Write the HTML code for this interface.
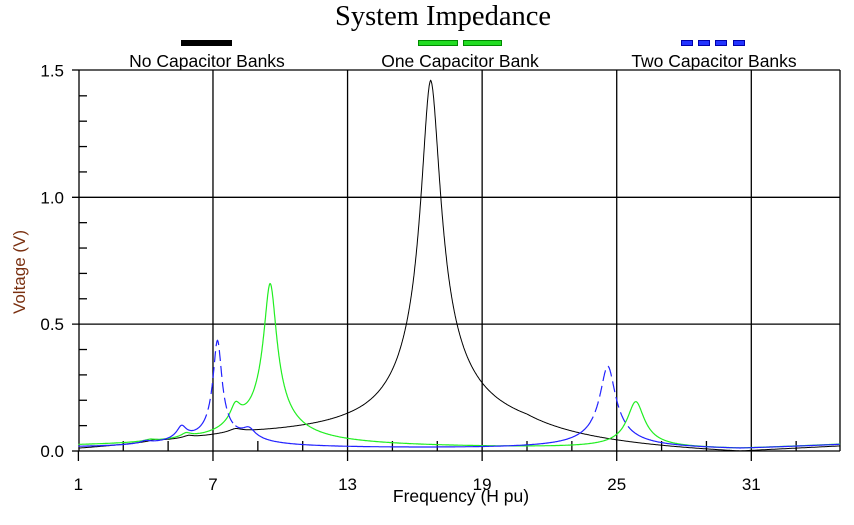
<!DOCTYPE html>
<html><head><meta charset="utf-8"><style>
body{margin:0;background:#fff;width:854px;height:525px;overflow:hidden}
svg{display:block}
text{font-family:"Liberation Sans",Arial,sans-serif}
</style></head><body>
<svg id="s" width="854" height="525" viewBox="0 0 854 525">
<text x="443" y="25" text-anchor="middle" style="font-family:'Liberation Serif',serif;font-size:28.5px">System Impedance</text>
<rect x="181" y="40" width="51" height="6" fill="#000"/>
<rect x="418.5" y="40.5" width="39" height="5" fill="#22dd22" stroke="#008800"/>
<rect x="463.5" y="40.5" width="38" height="5" fill="#22dd22" stroke="#008800"/>
<rect x="681.5" y="40.5" width="11" height="5" fill="#2233ff" stroke="#0000aa"/>
<rect x="698.5" y="40.5" width="11" height="5" fill="#2233ff" stroke="#0000aa"/>
<rect x="715.5" y="40.5" width="11" height="5" fill="#2233ff" stroke="#0000aa"/>
<rect x="733.5" y="40.5" width="11" height="5" fill="#2233ff" stroke="#0000aa"/>
<text x="207" y="67" text-anchor="middle" font-size="17.5">No Capacitor Banks</text>
<text x="460" y="67" text-anchor="middle" font-size="17.5">One Capacitor Bank</text>
<text x="714" y="67" text-anchor="middle" font-size="17.5">Two Capacitor Banks</text>
<g stroke="#000" stroke-width="1.3" fill="none" id="grid"></g>
<g font-size="17" id="lbl"></g>
<text x="461" y="502" text-anchor="middle" font-size="17.5">Frequency (H pu)</text>
<text transform="translate(25,272) rotate(-90)" text-anchor="middle" font-size="17" fill="#7a3010">Voltage (V)</text>
<path id="pk" fill="none" stroke="#000" stroke-width="1"/>
<path id="pg" fill="none" stroke="#22ee22" stroke-width="1.2"/>
<path id="pb" fill="none" stroke="#2222ff" stroke-width="1.2"/>
<path id="pb2" fill="none" stroke="#2222ff" stroke-width="1.2" stroke-dasharray="11,5"/>
<path id="pb3" fill="none" stroke="#2222ff" stroke-width="1.2" stroke-dasharray="11,5"/>
</svg>
<script>
var X=function(f){return 78.4+(f-1)*22.43}, Y=function(v){return 451-v*253.7};
var NS="http://www.w3.org/2000/svg",g=document.getElementById('grid'),l=document.getElementById('lbl');
function ln(a,b,c,d){var e=document.createElementNS(NS,'line');e.setAttribute('x1',a);e.setAttribute('y1',b);e.setAttribute('x2',c);e.setAttribute('y2',d);g.appendChild(e);}
function tx(x,y,t,a){var e=document.createElementNS(NS,'text');e.setAttribute('x',x);e.setAttribute('y',y);e.setAttribute('text-anchor',a);e.textContent=t;l.appendChild(e);}
ln(79,70,840,70);ln(79,451,840,451);ln(79,70,79,451);ln(840,70,840,451);
ln(72,70,79,70);ln(72,451,79,451);
[7,13,19,25,31].forEach(function(f){ln(X(f),70,X(f),461);});
[1].forEach(function(f){ln(X(f),451,X(f),461);});
[3,5,9,11,15,17,21,23,27,29,33].forEach(function(f){ln(X(f),441,X(f),451);});
[0.5,1.0].forEach(function(v){ln(72,Y(v),840,Y(v));});
for(var i=1;i<15;i++){if(i%5)ln(79,Y(i/10),87,Y(i/10));}
[["1.5",1.5],["1.0",1],["0.5",0.5],["0.0",0]].forEach(function(a){tx(64,Y(a[1])+6,a[0],'end');});
[1,7,13,19,25,31].forEach(function(f){tx(X(f),490,String(f),'middle');});
function L(f,f0,a,w,p){var d=(f-f0)/w;return a/Math.pow(1+d*d,p||0.5);}
function lowb(f){
 if(f<=30.5) return 0.007*Math.max(0,(30.5-f)/29.5);
 return 0.02*(f-30.5)/4.5;}
function K(f){var v=L(f,16.7,1.46,0.43);
 if(f<16.7)v*=Math.pow((f-1)/15.7,1.2);
 if(f>21)v*=Math.max(0,Math.min(1,(30.5-f)/9.5));
 v+=L(f,4.4,0.008,0.2)+L(f,5.9,0.01,0.2)+L(f,8.0,0.015,0.25);
 if(f<16)v+=(0.01+0.005*Math.min(f-1,12))*Math.min(1,(16-f)/8);
 if(f>30.5)v+=0.02*(f-30.5)/4.5;
 return v;}
function G(f){return L(f,9.55,0.64,0.29,0.56)+L(f,8.0,0.09,0.22)+L(f,5.8,0.02,0.2)+L(f,4.2,0.008,0.2)+L(f,25.85,0.185,0.4,0.7)+lowb(f);}
function B(f){return L(f,7.2,0.41,0.2,0.65)+L(f,5.6,0.06,0.2)+L(f,8.6,0.05,0.28)+L(f,4.0,0.012,0.2)+L(f,24.6,0.33,0.35,0.62)+lowb(f);}
function path(fn,a,b){var d="";for(var f=a;f<=b;f+=0.02){d+=(d?"L":"M")+X(f).toFixed(1)+","+Y(fn(f)).toFixed(1);}return d;}
document.getElementById('pk').setAttribute('d',path(K,1,34.96));
document.getElementById('pg').setAttribute('d',path(G,1,34.96));
document.getElementById('pb').setAttribute('d',path(B,1,6.5)+path(B,8.0,23.7)+path(B,25.6,34.96));
document.getElementById('pb2').setAttribute('d',path(B,6.5,8.0));
document.getElementById('pb3').setAttribute('d',path(B,23.7,25.6));
</script>
</body></html>
